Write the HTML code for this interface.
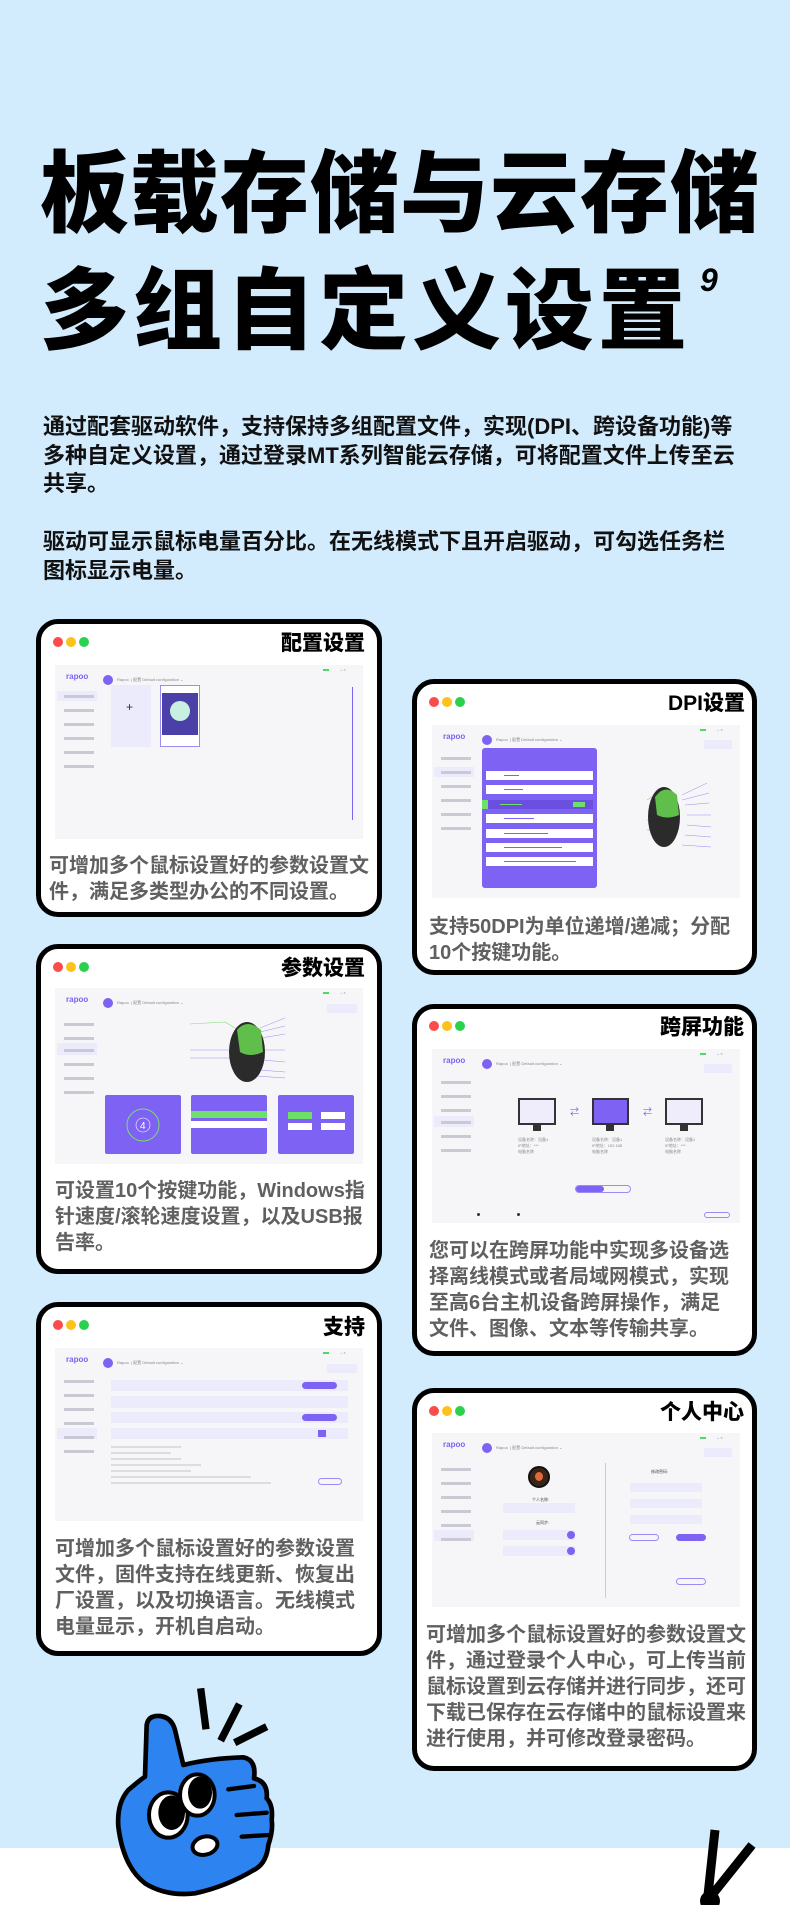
<!DOCTYPE html>
<html><head><meta charset="utf-8">
<style>
*{margin:0;padding:0;box-sizing:border-box}
body{width:790px;height:1905px;position:relative;overflow:hidden;background:#d2ebfd;font-family:"Liberation Sans","Noto Sans CJK SC",sans-serif}
.abs{position:absolute}
.h1{position:absolute;left:40px;font-size:89px;font-weight:900;line-height:1;color:#000;white-space:nowrap;letter-spacing:1px}
.p{position:absolute;left:43px;font-size:22px;font-weight:700;line-height:28.5px;color:#111;width:740px}
.card{position:absolute;background:#fff;border:5px solid #000;border-radius:22px;overflow:hidden}
.dot{position:absolute;width:10px;height:10px;border-radius:50%}
.ttl{position:absolute;font-size:21px;font-weight:900;color:#000;white-space:nowrap}
.cap{position:absolute;font-size:20px;font-weight:700;line-height:26px;color:#606060}
.shot{position:absolute;background:#f6f6f9;overflow:hidden}
.s{position:absolute}
.logo{position:absolute;left:11px;top:7px;font-size:8px;color:#7d62f3;font-weight:700}
.av{position:absolute;left:48px;top:10px;width:10px;height:10px;border-radius:50%;background:#7d62f3}
.tiny{position:absolute;font-size:4px;color:#888;white-space:nowrap}
.side{position:absolute;left:9px;width:30px;height:3px;background:#c9c9d3}
.pp{background:#7d62f3}
.lav{background:#ecebfb}
</style></head><body>

<div class="h1" style="top:150px">板载存储与云存储</div>
<div class="h1" style="top:267px;letter-spacing:4px">多组自定义设置</div>
<div class="abs" style="left:700px;top:262px;font-size:32px;font-weight:900;font-style:italic">9</div>

<div class="p" style="top:413px">通过配套驱动软件，支持保持多组配置文件，实现(DPI、跨设备功能)等<br>多种自定义设置，通过登录MT系列智能云存储，可将配置文件上传至云<br>共享。</div>
<div class="p" style="top:528px">驱动可显示鼠标电量百分比。在无线模式下且开启驱动，可勾选任务栏<br>图标显示电量。</div>

<!-- Card 1 -->
<div class="card" style="left:36px;top:619px;width:346px;height:298px"></div>
<div class="dot" style="left:53px;top:637px;background:#fb4c4c"></div><div class="dot" style="left:66px;top:637px;background:#fcc21b"></div><div class="dot" style="left:79px;top:637px;background:#2bd04d"></div>
<div class="ttl" style="right:425px;top:627px">配置设置</div>
<div class="shot" style="left:55px;top:665px;width:308px;height:174px">
 <div class="logo">rapoo</div><div class="av"></div><div class="tiny" style="left:62px;top:12px">Rapoo &nbsp;| 配置 Default configuration ⌄</div>
 <div class="s pp" style="left:268px;top:4px;width:6px;height:2px;background:#4cd964"></div><div class="tiny" style="left:285px;top:2px">– ×</div>
 <div class="s lav" style="left:2px;top:26px;width:40px;height:10px"></div>
 <div class="side" style="top:30px"></div><div class="side" style="top:44px"></div><div class="side" style="top:58px"></div><div class="side" style="top:72px"></div><div class="side" style="top:86px"></div><div class="side" style="top:100px"></div>
 <div class="s lav" style="left:56px;top:20px;width:40px;height:62px"></div><div class="s" style="left:71px;top:35px;font-size:12px;color:#333">+</div>
 <div class="s" style="left:105px;top:20px;width:40px;height:62px;border:1px solid #9d8bf5;background:#fff"></div>
 <div class="s" style="left:107px;top:28px;width:36px;height:42px;background:#4b3fa8"></div>
 <div class="s" style="left:115px;top:36px;width:20px;height:20px;border-radius:50%;background:#c8f0e0"></div>
 <div class="s pp" style="left:297px;top:22px;width:1px;height:133px"></div>
</div>
<div class="cap" style="left:49px;top:853px">可增加多个鼠标设置好的参数设置文<br>件，满足多类型办公的不同设置。</div>

<!-- Card 2 DPI -->
<div class="card" style="left:412px;top:679px;width:345px;height:296px"></div>
<div class="dot" style="left:429px;top:697px;background:#fb4c4c"></div><div class="dot" style="left:442px;top:697px;background:#fcc21b"></div><div class="dot" style="left:455px;top:697px;background:#2bd04d"></div>
<div class="ttl" style="left:668px;top:687px">DPI设置</div>
<div class="shot" style="left:432px;top:725px;width:308px;height:173px">
 <div class="logo">rapoo</div><div class="av" style="left:50px"></div><div class="tiny" style="left:64px;top:12px">Rapoo &nbsp;| 配置 Default configuration ⌄</div>
 <div class="s" style="left:268px;top:4px;width:6px;height:2px;background:#4cd964"></div><div class="tiny" style="left:285px;top:2px">– ×</div>
 <div class="s lav" style="left:272px;top:15px;width:28px;height:9px"></div>
 <div class="s lav" style="left:2px;top:42px;width:40px;height:10px"></div>
 <div class="side" style="top:32px"></div><div class="side" style="top:46px"></div><div class="side" style="top:60px"></div><div class="side" style="top:74px"></div><div class="side" style="top:88px"></div><div class="side" style="top:102px"></div>
 <div class="s pp" style="left:50px;top:23px;width:115px;height:140px;border-radius:3px">
  <div class="s" style="left:4px;top:23px;width:107px;height:9px;background:#fff"><div class="s pp" style="left:18px;top:4px;width:15px;height:1px"></div></div>
  <div class="s" style="left:4px;top:37px;width:107px;height:9px;background:#fff"><div class="s pp" style="left:18px;top:4px;width:19px;height:1px"></div></div>
  <div class="s" style="left:0;top:52px;width:111px;height:9px;background:#6a4fe0"><div class="s" style="left:18px;top:4px;width:22px;height:1px;background:#6ee06a"></div><div class="s" style="left:0;top:0;width:6px;height:9px;background:#6ee06a"></div><div class="s" style="left:91px;top:2px;width:12px;height:5px;background:#6ee06a"></div></div>
  <div class="s" style="left:4px;top:66px;width:107px;height:9px;background:#fff"><div class="s pp" style="left:18px;top:4px;width:30px;height:1px"></div></div>
  <div class="s" style="left:4px;top:81px;width:107px;height:9px;background:#fff"><div class="s pp" style="left:18px;top:4px;width:44px;height:1px"></div></div>
  <div class="s" style="left:4px;top:95px;width:107px;height:9px;background:#fff"><div class="s pp" style="left:18px;top:4px;width:58px;height:1px"></div></div>
  <div class="s" style="left:4px;top:109px;width:107px;height:9px;background:#fff"><div class="s pp" style="left:18px;top:4px;width:72px;height:1px"></div></div>
 </div>
 <svg class="s" style="left:195px;top:50px" width="100" height="80"><path d="M20 25 Q35 15 50 20" stroke="#7dde6a" fill="none" stroke-width=".6"/><path d="M55 20 L80 8 M55 25 L82 18 M58 30 L82 28 M60 40 L84 40 M60 50 L84 52 M58 60 L84 62 M55 70 L84 72 M20 45 L35 48 M20 55 L35 55" stroke="#9a8cf0" stroke-width=".5"/><ellipse cx="37" cy="42" rx="16" ry="30" fill="#2b2b2b"/><path d="M28 22 Q38 8 50 20 L52 40 Q40 45 30 40 Z" fill="#5fbf4a"/></svg>
</div>
<div class="cap" style="left:429px;top:914px">支持50DPI为单位递增/递减；分配<br>10个按键功能。</div>

<!-- Card 3 -->
<div class="card" style="left:36px;top:944px;width:346px;height:330px"></div>
<div class="dot" style="left:53px;top:962px;background:#fb4c4c"></div><div class="dot" style="left:66px;top:962px;background:#fcc21b"></div><div class="dot" style="left:79px;top:962px;background:#2bd04d"></div>
<div class="ttl" style="right:425px;top:952px">参数设置</div>
<div class="shot" style="left:55px;top:988px;width:308px;height:176px">
 <div class="logo">rapoo</div><div class="av"></div><div class="tiny" style="left:62px;top:12px">Rapoo &nbsp;| 配置 Default configuration ⌄</div>
 <div class="s" style="left:268px;top:4px;width:6px;height:2px;background:#4cd964"></div><div class="tiny" style="left:285px;top:2px">– ×</div>
 <div class="s lav" style="left:272px;top:16px;width:30px;height:9px"></div>
 <div class="s lav" style="left:2px;top:55px;width:40px;height:12px"></div>
 <div class="side" style="top:35px"></div><div class="side" style="top:49px"></div><div class="side" style="top:61px"></div><div class="side" style="top:75px"></div><div class="side" style="top:89px"></div><div class="side" style="top:103px"></div>
 <svg class="s" style="left:130px;top:22px" width="110" height="75"><path d="M5 14 L40 12 L62 25" stroke="#7dde6a" fill="none" stroke-width=".6"/><path d="M75 18 L100 8 M75 22 L100 16 M76 28 L100 24 M78 40 L100 40 M78 50 L100 52 M75 60 L100 62 M72 66 L100 68 M5 40 L50 40 M5 48 L50 48" stroke="#9a8cf0" stroke-width=".5"/><ellipse cx="62" cy="42" rx="18" ry="30" fill="#2b2b2b"/><path d="M52 20 Q62 8 76 20 L78 42 Q65 48 55 42 Z" fill="#5fbf4a"/></svg>
 <div class="s pp" style="left:50px;top:107px;width:76px;height:59px;border-radius:2px"><svg class="s" style="left:18px;top:10px" width="40" height="45"><circle cx="20" cy="20" r="16" fill="none" stroke="#7dde6a" stroke-width="1"/><circle cx="20" cy="20" r="7" fill="none" stroke="#fff" stroke-width=".6"/><text x="17" y="24" font-size="10" fill="#fff" font-family="Liberation Sans">4</text></svg></div>
 <div class="s pp" style="left:136px;top:107px;width:76px;height:59px;border-radius:2px"><div class="s" style="left:0;top:16px;width:76px;height:7px;background:#6ee06a"></div><div class="s" style="left:0;top:26px;width:76px;height:7px;background:#fff"></div></div>
 <div class="s pp" style="left:223px;top:107px;width:76px;height:59px;border-radius:2px"><div class="s" style="left:10px;top:17px;width:24px;height:7px;background:#6ee06a"></div><div class="s" style="left:43px;top:17px;width:24px;height:7px;background:#fff"></div><div class="s" style="left:10px;top:28px;width:24px;height:7px;background:#fff"></div><div class="s" style="left:43px;top:28px;width:24px;height:7px;background:#fff"></div></div>
</div>
<div class="cap" style="left:55px;top:1178px">可设置10个按键功能，Windows指<br>针速度/滚轮速度设置，以及USB报<br>告率。</div>

<!-- Card 4 -->
<div class="card" style="left:412px;top:1004px;width:345px;height:352px"></div>
<div class="dot" style="left:429px;top:1021px;background:#fb4c4c"></div><div class="dot" style="left:442px;top:1021px;background:#fcc21b"></div><div class="dot" style="left:455px;top:1021px;background:#2bd04d"></div>
<div class="ttl" style="left:660px;top:1011px">跨屏功能</div>
<div class="shot" style="left:432px;top:1049px;width:308px;height:174px">
 <div class="logo">rapoo</div><div class="av" style="left:50px"></div><div class="tiny" style="left:64px;top:12px">Rapoo &nbsp;| 配置 Default configuration ⌄</div>
 <div class="s" style="left:268px;top:4px;width:6px;height:2px;background:#4cd964"></div><div class="tiny" style="left:285px;top:2px">– ×</div>
 <div class="s lav" style="left:272px;top:15px;width:28px;height:9px"></div>
 <div class="s lav" style="left:2px;top:67px;width:40px;height:11px"></div>
 <div class="side" style="top:32px"></div><div class="side" style="top:46px"></div><div class="side" style="top:60px"></div><div class="side" style="top:72px"></div><div class="side" style="top:86px"></div><div class="side" style="top:100px"></div>
 <div class="s" style="left:86px;top:49px;width:38px;height:27px;border:2px solid #333;background:#efedfb"></div><div class="s" style="left:101px;top:76px;width:8px;height:6px;background:#333"></div>
 <div class="s" style="left:160px;top:49px;width:37px;height:27px;border:2px solid #333;background:#7d62f3"></div><div class="s" style="left:174px;top:76px;width:8px;height:6px;background:#333"></div>
 <div class="s" style="left:233px;top:49px;width:38px;height:27px;border:2px solid #333;background:#efedfb"></div><div class="s" style="left:248px;top:76px;width:8px;height:6px;background:#333"></div>
 <div class="s" style="left:138px;top:56px;font-size:9px;color:#7d62f3">⇄</div><div class="s" style="left:211px;top:56px;font-size:9px;color:#7d62f3">⇄</div>
 <div class="tiny" style="left:86px;top:88px;line-height:6px">设备名称：设备1<br>IP地址：***<br>电脑名称</div>
 <div class="tiny" style="left:160px;top:88px;line-height:6px">设备名称：设备1<br>IP地址：192.168<br>电脑名称</div>
 <div class="tiny" style="left:233px;top:88px;line-height:6px">设备名称：设备1<br>IP地址：***<br>电脑名称</div>
 <div class="s" style="left:143px;top:136px;width:56px;height:8px;border:1px solid #9d8bf5;border-radius:4px"><div class="s pp" style="left:0;top:0;width:28px;height:6px;border-radius:3px"></div></div>
 <div class="s" style="left:45px;top:164px;width:3px;height:3px;border-radius:50%;background:#333"></div><div class="s" style="left:85px;top:164px;width:3px;height:3px;border-radius:50%;background:#333"></div>
 <div class="s" style="left:272px;top:163px;width:26px;height:6px;border:1px solid #9d8bf5;border-radius:3px"></div>
</div>
<div class="cap" style="left:429px;top:1238px">您可以在跨屏功能中实现多设备选<br>择离线模式或者局域网模式，实现<br>至高6台主机设备跨屏操作，满足<br>文件、图像、文本等传输共享。</div>

<!-- Card 5 -->
<div class="card" style="left:36px;top:1302px;width:346px;height:354px"></div>
<div class="dot" style="left:53px;top:1320px;background:#fb4c4c"></div><div class="dot" style="left:66px;top:1320px;background:#fcc21b"></div><div class="dot" style="left:79px;top:1320px;background:#2bd04d"></div>
<div class="ttl" style="right:425px;top:1311px">支持</div>
<div class="shot" style="left:55px;top:1348px;width:308px;height:173px">
 <div class="logo">rapoo</div><div class="av"></div><div class="tiny" style="left:62px;top:12px">Rapoo &nbsp;| 配置 Default configuration ⌄</div>
 <div class="s" style="left:268px;top:4px;width:6px;height:2px;background:#4cd964"></div><div class="tiny" style="left:285px;top:2px">– ×</div>
 <div class="s lav" style="left:272px;top:16px;width:30px;height:9px"></div>
 <div class="s lav" style="left:2px;top:80px;width:40px;height:11px"></div>
 <div class="side" style="top:32px"></div><div class="side" style="top:46px"></div><div class="side" style="top:60px"></div><div class="side" style="top:74px"></div><div class="side" style="top:88px"></div><div class="side" style="top:102px"></div>
 <div class="s lav" style="left:56px;top:32px;width:237px;height:11px"><div class="s pp" style="left:191px;top:2px;width:35px;height:7px;border-radius:4px"></div></div>
 <div class="s lav" style="left:56px;top:48px;width:237px;height:12px"></div>
 <div class="s lav" style="left:56px;top:64px;width:237px;height:11px"><div class="s pp" style="left:191px;top:2px;width:35px;height:7px;border-radius:4px"></div></div>
 <div class="s lav" style="left:56px;top:80px;width:237px;height:11px"><div class="s pp" style="left:207px;top:2px;width:8px;height:7px"></div></div>
 <div class="s" style="left:56px;top:98px;width:70px;height:2px;background:#ddd"></div>
 <div class="s" style="left:56px;top:104px;width:60px;height:2px;background:#ddd"></div>
 <div class="s" style="left:56px;top:110px;width:70px;height:2px;background:#ddd"></div>
 <div class="s" style="left:56px;top:116px;width:90px;height:2px;background:#ddd"></div>
 <div class="s" style="left:56px;top:122px;width:80px;height:2px;background:#ddd"></div>
 <div class="s" style="left:56px;top:128px;width:140px;height:2px;background:#ddd"></div>
 <div class="s" style="left:56px;top:134px;width:160px;height:2px;background:#ddd"></div>
 <div class="s" style="left:263px;top:130px;width:24px;height:7px;border:1px solid #9d8bf5;border-radius:4px"></div>
</div>
<div class="cap" style="left:55px;top:1536px">可增加多个鼠标设置好的参数设置<br>文件，固件支持在线更新、恢复出<br>厂设置，以及切换语言。无线模式<br>电量显示，开机自启动。</div>

<!-- Card 6 -->
<div class="card" style="left:412px;top:1388px;width:345px;height:383px"></div>
<div class="dot" style="left:429px;top:1406px;background:#fb4c4c"></div><div class="dot" style="left:442px;top:1406px;background:#fcc21b"></div><div class="dot" style="left:455px;top:1406px;background:#2bd04d"></div>
<div class="ttl" style="left:660px;top:1396px">个人中心</div>
<div class="shot" style="left:432px;top:1433px;width:308px;height:174px">
 <div class="logo">rapoo</div><div class="av" style="left:50px"></div><div class="tiny" style="left:64px;top:12px">Rapoo &nbsp;| 配置 Default configuration ⌄</div>
 <div class="s" style="left:268px;top:4px;width:6px;height:2px;background:#4cd964"></div><div class="tiny" style="left:285px;top:2px">– ×</div>
 <div class="s lav" style="left:272px;top:15px;width:28px;height:9px"></div>
 <div class="s lav" style="left:2px;top:97px;width:40px;height:11px"></div>
 <div class="side" style="top:35px"></div><div class="side" style="top:49px"></div><div class="side" style="top:63px"></div><div class="side" style="top:77px"></div><div class="side" style="top:91px"></div><div class="side" style="top:105px"></div>
 <div class="s" style="left:96px;top:33px;width:22px;height:22px;border-radius:50%;background:#3a2418;border:2px solid #111"><div class="s" style="left:5px;top:4px;width:8px;height:9px;border-radius:50%;background:#e06a3a"></div></div>
 <div class="tiny" style="left:100px;top:64px;color:#444">个人名称:</div>
 <div class="s lav" style="left:71px;top:70px;width:72px;height:10px"></div>
 <div class="tiny" style="left:104px;top:87px;color:#444">云同步:</div>
 <div class="s lav" style="left:71px;top:97px;width:72px;height:10px"><div class="s pp" style="left:64px;top:1px;width:8px;height:8px;border-radius:50%"></div></div>
 <div class="s lav" style="left:71px;top:113px;width:72px;height:10px"><div class="s pp" style="left:64px;top:1px;width:8px;height:8px;border-radius:50%"></div></div>
 <div class="s" style="left:173px;top:30px;width:1px;height:135px;background:#ccc"></div>
 <div class="tiny" style="left:219px;top:36px;color:#444">修改密码:</div>
 <div class="s lav" style="left:198px;top:50px;width:72px;height:9px"></div>
 <div class="s lav" style="left:198px;top:66px;width:72px;height:9px"></div>
 <div class="s lav" style="left:198px;top:82px;width:72px;height:9px"></div>
 <div class="s" style="left:197px;top:101px;width:30px;height:7px;border:1px solid #9d8bf5;border-radius:4px"></div>
 <div class="s pp" style="left:244px;top:101px;width:30px;height:7px;border-radius:4px"></div>
 <div class="s" style="left:244px;top:145px;width:30px;height:7px;border:1px solid #9d8bf5;border-radius:4px"></div>
</div>
<div class="cap" style="left:426px;top:1622px">可增加多个鼠标设置好的参数设置文<br>件，通过登录个人中心，可上传当前<br>鼠标设置到云存储并进行同步，还可<br>下载已保存在云存储中的鼠标设置来<br>进行使用，并可修改登录密码。</div>

<!-- bottom white -->
<div class="abs" style="left:0;top:1848px;width:790px;height:57px;background:#fff"></div>

<!-- mascot -->
<svg class="abs" style="left:100px;top:1680px" width="200" height="225" viewBox="0 0 600 675">
 <g stroke="#000" stroke-width="22" stroke-linecap="butt"><line x1="302" y1="25" x2="318" y2="148"/><line x1="418" y1="72" x2="362" y2="182"/><line x1="500" y1="140" x2="404" y2="188"/></g>
 <path d="M140 135 Q145 105 180 108 Q215 112 225 150 L250 255 Q330 235 430 232 Q470 240 462 295 Q505 305 500 355 Q520 375 515 420 Q520 450 505 495 Q500 545 470 565 Q380 620 285 640 Q200 650 135 610 Q70 560 55 440 Q50 370 85 330 Q120 300 135 290 Z" fill="#2d83f0" stroke="#000" stroke-width="14" stroke-linejoin="round"/>
 <g stroke="#000" stroke-width="13" stroke-linecap="round"><line x1="385" y1="328" x2="462" y2="318"/><line x1="410" y1="405" x2="500" y2="398"/><line x1="425" y1="470" x2="505" y2="465"/></g>
 <ellipse cx="205" cy="405" rx="58" ry="68" fill="#fff" stroke="#000" stroke-width="12"/><ellipse cx="215" cy="398" rx="40" ry="52" fill="#000"/>
 <ellipse cx="292" cy="345" rx="52" ry="62" fill="#fff" stroke="#000" stroke-width="12"/><ellipse cx="300" cy="338" rx="36" ry="48" fill="#000"/>
 <ellipse cx="315" cy="497" rx="38" ry="27" fill="#fff" stroke="#000" stroke-width="12" transform="rotate(-15 315 497)"/>
</svg>
<svg class="abs" style="left:690px;top:1825px" width="70" height="80"><path d="M25 5 L18 70 M62 20 L22 70" stroke="#000" stroke-width="9"/><circle cx="20" cy="76" r="10" fill="#000"/></svg>

</body></html>
